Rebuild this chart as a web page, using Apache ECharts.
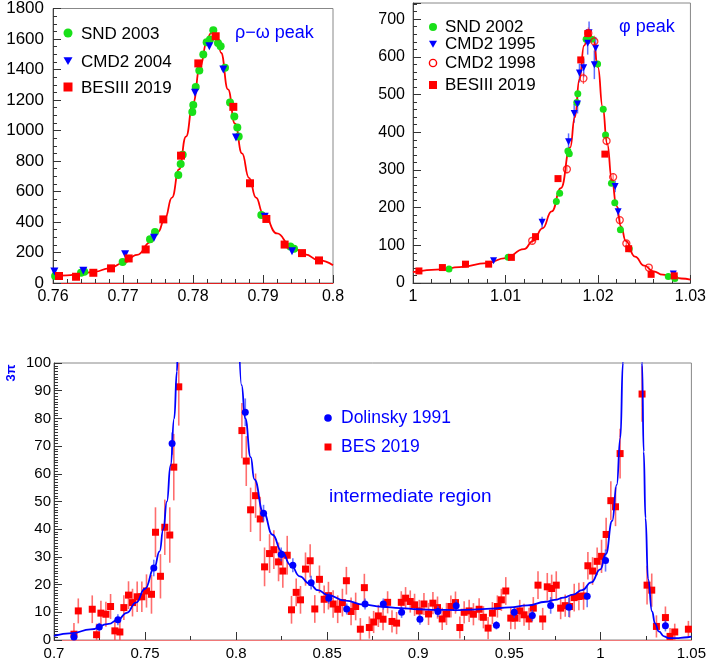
<!DOCTYPE html>
<html><head><meta charset="utf-8">
<script src="https://cdn.jsdelivr.net/npm/echarts@6/dist/echarts.min.js"></script>
<style>html,body{margin:0;padding:0;background:#fff}#c{width:709px;height:661px}</style>
</head><body><div id="c"></div>
<script>
// ---------- Top-left: rho-omega peak ----------
const snd2003 = [[0.7603,46],[0.7640,67],[0.76447,74],[0.76995,137],[0.77386,287],[0.77457,335],[0.7779,709],[0.77824,781],[0.77853,841],[0.7799,1122],[0.78004,1168],[0.78039,1285],[0.7809,1394],[0.78147,1498],[0.78195,1579],[0.78243,1596],[0.7829,1657],[0.78357,1574],[0.78395,1552],[0.78457,1411],[0.78529,1183],[0.7859,1091],[0.78633,1020],[0.78653,961],[0.78976,446],[0.7939,239],[0.79443,224]];
const cmd2004 = [[0.7602,75],[0.76433,80],[0.7703,189],[0.77443,296],[0.78029,1248],[0.78233,1553],[0.78433,1400],[0.78614,954],[0.79024,435],[0.79414,209]];
const bes2019rho = [[0.76086,46],[0.76329,41],[0.76576,67],[0.76829,96],[0.77081,161],[0.77324,220],[0.77576,417],[0.77829,835],[0.78076,1440],[0.78324,1618],[0.78576,1155],[0.78814,654],[0.79048,420],[0.79309,252],[0.79557,196],[0.798,148]];
const fitRho = [[0.760,43],[0.762,50],[0.764,60],[0.766,75],[0.768,96],[0.770,130],[0.772,185],[0.774,270],[0.775,335],[0.776,425],[0.777,560],[0.778,745],[0.779,960],[0.780,1180],[0.781,1415],[0.782,1585],[0.7825,1635],[0.783,1650],[0.7835,1612],[0.784,1510],[0.785,1270],[0.786,1045],[0.787,850],[0.788,690],[0.789,560],[0.790,458],[0.792,325],[0.794,242],[0.796,188],[0.798,148],[0.800,116]];

// ---------- Top-right: phi peak ----------
const snd2002 = [[1.00389,37],[1.01029,68],[1.0155,216],[1.01586,238],[1.01675,350],[1.0169,343],[1.01771,479],[1.01782,502],[1.01872,647],[1.01932,647],[1.01996,581],[1.02057,461],[1.02082,393],[1.02146,265],[1.02182,213],[1.02243,141],[1.02339,91],[1.02761,17],[1.02832,12]];
const cmd1995 = [[1.00871,59,5],[1.01396,161,15],[1.01682,375,22],[1.01743,450,25],[1.01779,475,25],[1.018,557,25],[1.01846,571,25],[1.01889,636,30],[1.01904,664,30],[1.01961,579,38],[1.01975,623,30],[1.02186,256,15],[1.02218,189,12],[1.02815,24,6]];
const cmd1998 = [[1.01289,112,8],[1.01664,302,12],[1.01843,543,15],[1.01896,663,15],[1.01961,641,15],[1.02093,377,12],[1.02164,281,10],[1.02236,167,8],[1.02307,105,7],[1.0255,41,5]];
const bes2019phi = [[1.00064,32],[1.00318,41],[1.00568,50],[1.00818,50],[1.01064,68],[1.01325,123],[1.01568,277],[1.01814,592],[1.0189,662],[1.02075,342],[1.02332,91],[1.02575,23],[1.02825,19]];
const fitPhi = [[1.000,29],[1.003,36],[1.005,42],[1.008,53],[1.010,66],[1.012,90],[1.013,112],[1.014,145],[1.015,190],[1.016,252],[1.017,360],[1.0175,440],[1.018,540],[1.0185,630],[1.019,667],[1.0195,645],[1.020,572],[1.0205,468],[1.021,370],[1.0215,275],[1.022,205],[1.0225,150],[1.023,112],[1.024,70],[1.025,46],[1.026,31],[1.027,22],[1.028,16],[1.029,12],[1.030,9]];

// ---------- Bottom: intermediate region ----------
const dolinsky1991 = [[0.71096,1.1,1.5],[0.72485,4.7,1.5],[0.73508,7.3,2],[0.7548,26,3],[0.76485,70.9,4],[0.80504,82.2,5],[0.81507,45.8,3],[0.82477,30.9,2.5],[0.83115,27,2.5],[0.84119,20.7,2.5],[0.85088,15.1,2],[0.86072,11.2,2],[0.8708,13,2],[0.88083,13,2],[0.89087,10,2],[0.90094,7.5,2],[0.9108,10.3,2],[0.92084,12.4,2],[0.94292,5.3,1.5],[0.9527,10,2],[0.96264,8.8,2],[0.97272,12.5,3],[0.98275,11.8,3.5],[0.99278,15.8,4],[1.00285,28.7,4],[1.03574,5.1,2]];
const bes2019 = [[0.71096,2.1,4],[0.71334,10.5,4.5],[0.7210,11.1,5],[0.72338,1.9,4],[0.72576,9.7,4.5],[0.7285,9.3,4.5],[0.73106,12.1,4.5],[0.73343,3.3,4],[0.73617,2.9,4],[0.73836,11.7,4.5],[0.74092,16.2,5],[0.74311,13.5,5],[0.74567,15.6,5.5],[0.74823,15.6,5.5],[0.75079,17.7,6],[0.75353,16.5,7],[0.75572,38.9,9],[0.75846,23,8],[0.76083,40.7,10],[0.76357,37.9,10],[0.76577,62.4,12],[0.76851,91.4,14],
[0.80318,75.6,10],[0.80557,64.6,9],[0.80795,47,8],[0.81069,52.1,8],[0.81325,43.7,8],[0.81562,26.4,7],[0.81836,31.2,7],[0.82072,32.6,7],[0.8233,28.2,7],[0.82565,24.9,6],[0.82806,30.6,7],[0.83042,10.9,5],[0.833,17.2,5],[0.83535,14.5,5],[0.8381,25.6,6],[0.84066,28.6,6],[0.8432,11.2,5],[0.84576,21.9,5],[0.84834,14.7,5],[0.8507,16,5],[0.85326,13,5],[0.85578,11.1,5],[0.85836,13.5,5],[0.86055,21.4,5],[0.86313,10.3,5],[0.86565,12.1,5],[0.86822,3.9,4],[0.87042,18.9,5],[0.87316,4.5,4],[0.87552,6.5,4],[0.87809,8.7,4],[0.88067,7.5,4],[0.88319,13.6,4],[0.8856,6.7,4],[0.88812,6.1,4],[0.8907,13.6,4],[0.89305,15.1,4],[0.89563,13.9,4],[0.89799,12.7,4],[0.90056,10.5,4],[0.90314,13,4],[0.90566,9.4,4],[0.90806,13.3,4],[0.91059,11.7,4],[0.91316,7.6,4],[0.91552,9.4,4],[0.91793,12.1,4],[0.92045,13.5,4],[0.92286,4.5,4],[0.92522,10,4],[0.92796,10.5,4],[0.93031,9.3,4],
[0.93344,11.1,4],[0.9358,8.2,4],[0.93837,4.3,4],[0.94073,9.7,4],[0.94347,12.1,4],[0.94566,14.5,4],[0.94807,17.7,5],[0.95081,7.9,4],[0.95317,7.9,4],[0.95574,10.5,4],[0.9581,9.1,4],[0.96084,7.6,4],[0.96319,11.5,4],[0.96577,19.8,5],[0.96834,7.6,4],[0.97086,19.2,5],[0.97327,18.6,5],[0.97579,19.8,5],[0.9782,11.5,4],[0.98072,12.4,4],[0.98313,12.1,4],[0.98565,15.3,5],[0.98822,15.7,5],[0.9908,15.9,5],[0.99316,26.8,5],[0.99573,24.9,5],[0.99825,28.4,5],[1.00066,30.2,6],[1.00318,38.1,6],[1.00576,50.3,7],[1.00833,48.1,7],[1.01085,67.3,9],[1.02291,88.8,10],[1.02565,19.8,7],[1.02822,18,6],[1.0308,4.9,4],[1.03574,8.1,4],[1.03827,1.3,3],[1.04085,2.9,3],[1.04835,3.9,3]];
const fitLeft = [[0.700,1.5],[0.710,2.5],[0.720,3.8],[0.730,5.8],[0.735,7.3],[0.740,9.8],[0.745,13.5],[0.750,18.5],[0.755,26],[0.758,32],[0.760,40],[0.762,50],[0.764,63],[0.766,80],[0.7675,97],[0.768,105],[0.7685,115]];
const fitMid = [[0.8015,112],[0.803,92],[0.805,80],[0.808,66],[0.810,58],[0.815,46],[0.820,38],[0.825,32],[0.830,27],[0.835,23],[0.840,20.5],[0.845,18],[0.850,16.3],[0.860,14.2],[0.870,12.8],[0.880,12],[0.890,11.5],[0.900,11.1],[0.910,10.9],[0.920,10.8],[0.930,11],[0.940,11.3],[0.950,11.8],[0.960,12.5],[0.970,13.8],[0.975,14.5],[0.980,15.3],[0.985,16.4],[0.990,18],[0.995,20.8],[1.000,25.5],[1.003,31],[1.0065,43],[1.009,56],[1.011,73],[1.0124,100],[1.013,115]];
const fitRight = [[1.0227,115],[1.0229,100],[1.0238,68],[1.0248,44],[1.0262,22],[1.0284,10.3],[1.030,6],[1.0321,3.1],[1.035,1.3],[1.0375,0.7],[1.042,0.7],[1.046,0.9],[1.050,1.2]];

const FONT = 'Liberation Sans';
const GREEN = '#19e019', RED = '#ff0000', BLUE = '#0000ff';

function yLabelFmt(step){ return v => (Math.abs(v/step - Math.round(v/step)) < 1e-6) ? String(Math.round(v)) : ''; }
function xLabelFmt(v){ return String(+(+v).toFixed(3)); }

function mkX(gi, min, max, interval, minorSplit, fs, lineColor){
  return {type:'value', gridIndex:gi, min:min, max:max, interval:interval,
    axisLine:{show:true, onZero:false, lineStyle:{color:lineColor, width:1}},
    axisTick:{show:true, inside:true, length:8, lineStyle:{color:'#333'}},
    minorTick:{show:true, splitNumber:minorSplit, length:4, lineStyle:{color:'#333'}},
    axisLabel:{fontSize:fs, color:'#000', fontFamily:FONT, margin:6, formatter:xLabelFmt, showMinLabel:true, showMaxLabel:true},
    splitLine:{show:false}, minorSplitLine:{show:false}};
}
function mkY(gi, min, max, interval, minorSplit, fs, margin){
  return {type:'value', gridIndex:gi, min:min, max:max, interval:interval,
    axisLine:{show:true, onZero:false, lineStyle:{color:'#444', width:1}},
    axisTick:{show:true, inside:true, length:8, lineStyle:{color:'#333'}},
    minorTick:{show:true, splitNumber:minorSplit, length:4, lineStyle:{color:'#333'}},
    axisLabel:{fontSize:fs, color:'#000', fontFamily:FONT, margin:margin, formatter:yLabelFmt(interval)},
    splitLine:{show:false}, minorSplitLine:{show:false}};
}
function errSeries(data, gi, color, width, ymin, ymax, z){
  return {type:'custom', xAxisIndex:gi, yAxisIndex:gi, clip:true, silent:true, z:z,
    data:data, encode:{x:0, y:1},
    renderItem:function(params, api){
      const x = api.value(0), y = api.value(1), e = api.value(2);
      const lo = Math.max(ymin, y - e), hi = Math.min(ymax, y + e);
      if (hi <= lo) return null;
      const p1 = api.coord([x, lo]), p2 = api.coord([x, hi]);
      return {type:'line', shape:{x1:p1[0], y1:p1[1], x2:p2[0], y2:p2[1]}, style:{stroke:color, lineWidth:width}};
    }};
}
function scat(name, data, gi, symbol, size, color, z, extra){
  return Object.assign({type:'scatter', name:name, xAxisIndex:gi, yAxisIndex:gi, data:data.map(d=>[d[0],d[1]]),
    symbol:symbol, symbolSize:size, itemStyle:{color:color, opacity:1}, z:z, silent:true}, extra||{});
}
function curve(data, gi, color, w){
  return {type:'line', xAxisIndex:gi, yAxisIndex:gi, data:data, showSymbol:false, smooth:0.5, smoothMonotone:'x',
    lineStyle:{color:color, width:w}, z:6, silent:true, clip:true};
}

function txt(x, y, s, fs, color, extra){
  return Object.assign({type:'text', x:x, y:y, style:{text:s, fontSize:fs, fontFamily:FONT, fill:color, verticalAlign:'middle', align:'left'}, z:20}, extra||{});
}
function gCircle(cx, cy, r, fill){ return {type:'circle', shape:{cx:cx, cy:cy, r:r}, style:{fill:fill}, z:20}; }
function gRing(cx, cy, r, stroke){ return {type:'circle', shape:{cx:cx, cy:cy, r:r}, style:{fill:'none', stroke:stroke, lineWidth:1.4}, z:20}; }
function gSquare(cx, cy, s, fill){ return {type:'rect', shape:{x:cx-s/2, y:cy-s/2, width:s, height:s}, style:{fill:fill}, z:20}; }
function gTri(cx, cy, s, fill){ return {type:'polygon', shape:{points:[[cx-s/2,cy-s/2.4],[cx+s/2,cy-s/2.4],[cx,cy+s/2.2]]}, style:{fill:fill}, z:20}; }

const option = {
  animation:false,
  backgroundColor:'#fff',
  grid:[
    {left:53, top:6, width:280, height:277, show:true, borderColor:'#888', borderWidth:1},
    {left:413, top:3, width:280, height:280, show:true, borderColor:'#888', borderWidth:1},
    {left:54, top:363, width:639, height:279, show:true, borderColor:'#888', borderWidth:1}
  ],
  xAxis:[
    mkX(0, 0.76, 0.8, 0.01, 5, 16, '#e02020'),
    mkX(1, 1.0, 1.03, 0.01, 5, 16, '#444'),
    mkX(2, 0.7, 1.05, 0.05, 2, 15, '#f07878')
  ],
  yAxis:[
    mkY(0, 0, 1800, 200, 4, 17, 9),
    mkY(1, 0, 743, 100, 5, 16, 8),
    mkY(2, 0, 100, 10, 10, 15, 3)
  ],
  series:[
    curve(fitRho, 0, RED, 1.8),
    scat('SND 2003', snd2003, 0, 'circle', 8, GREEN, 7),
    scat('CMD2 2004', cmd2004, 0, 'triangle', 8, BLUE, 8, {symbolRotate:180}),
    scat('BESIII 2019', bes2019rho, 0, 'rect', 8, RED, 9),

    curve(fitPhi, 1, RED, 1.8),
    errSeries(cmd1995, 1, 'rgba(40,60,255,0.75)', 1.5, 0, 743, 5),
    errSeries(cmd1998, 1, 'rgba(255,40,40,0.7)', 1.2, 0, 743, 5),
    scat('SND 2002', snd2002, 1, 'circle', 7, GREEN, 7),
    scat('CMD2 1995', cmd1995, 1, 'triangle', 7, BLUE, 8, {symbolRotate:180}),
    scat('CMD2 1998', cmd1998, 1, 'circle', 7, 'rgba(0,0,0,0)', 8, {itemStyle:{color:'rgba(0,0,0,0)', borderColor:RED, borderWidth:1.3}}),
    scat('BESIII 2019 phi', bes2019phi, 1, 'rect', 7, RED, 9),

    errSeries(bes2019, 2, 'rgba(255,60,60,0.75)', 1.6, 0, 100, 3),
    scat('BES 2019', bes2019, 2, 'rect', 7, RED, 4),
    errSeries(dolinsky1991, 2, 'rgba(40,60,255,0.7)', 1.6, 0, 100, 5),
    scat('Dolinsky 1991', dolinsky1991, 2, 'circle', 7, BLUE, 7),
    curve(fitLeft, 2, BLUE, 1.8),
    curve(fitMid, 2, BLUE, 1.8),
    curve(fitRight, 2, BLUE, 1.8)
  ],
  graphic:[
    gCircle(68, 33, 4.5, GREEN), txt(81, 34, 'SND 2003', 17, '#000'),
    gTri(68, 61, 9, BLUE), txt(81, 62, 'CMD2 2004', 17, '#000'),
    gSquare(68, 87, 9, RED), txt(81, 88, 'BESIII 2019', 17, '#000'),
    txt(235, 33, 'ρ−ω peak', 18, BLUE),
    gCircle(433, 27, 4, GREEN), txt(445, 27, 'SND 2002', 17, '#000'),
    gTri(433, 44, 8, BLUE), txt(445, 44.5, 'CMD2 1995', 17, '#000'),
    gRing(433, 63, 3.6, RED), txt(445, 63, 'CMD2 1998', 17, '#000'),
    gSquare(433, 85, 8, RED), txt(445, 85, 'BESIII 2019', 17, '#000'),
    txt(619, 27, 'φ peak', 18, BLUE),
    gCircle(328, 418, 3.8, BLUE), txt(341, 418, 'Dolinsky 1991', 17.5, BLUE),
    gSquare(328, 447, 7, RED), txt(341, 447, 'BES 2019', 17.5, BLUE),
    txt(329, 497, 'intermediate region', 19, BLUE),
    {type:'text', x:11, y:373, rotation:Math.PI/2, style:{text:'3π', fontSize:13, fontWeight:'bold', fontFamily:FONT, fill:BLUE, align:'center', verticalAlign:'middle'}, z:20}
  ]
};
const chart = echarts.init(document.getElementById('c'));
chart.setOption(option);
</script></body></html>
